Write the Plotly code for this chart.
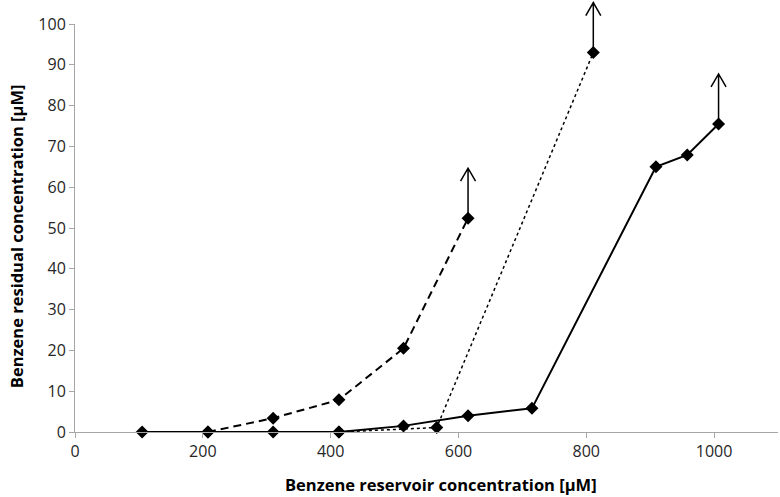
import plotly.graph_objects as go

# Data
solid_x = [105, 208, 310, 413, 514, 615, 715, 909, 958, 1007]
solid_y = [0, 0, 0, 0, 1.5, 4.0, 5.8, 65.0, 67.9, 75.5]

dashed_x = [208, 310, 413, 514, 615]
dashed_y = [0, 3.4, 7.9, 20.5, 52.4]

dotted_x = [413, 566, 811]
dotted_y = [0, 1.1, 93.0]

x_ticks = [0, 200, 400, 600, 800, 1000]
y_ticks = [0, 10, 20, 30, 40, 50, 60, 70, 80, 90, 100]

x_title = "Benzene reservoir concentration [µM]"
y_title = "Benzene residual concentration [µM]"

X_RANGE = [0, 1100]
Y_RANGE = [0, 100]

FONT = "'Open Sans', Lato, sans-serif"
AXIS_GREY = "#a6a6a6"

fig = go.Figure()

series = [
    (dotted_x, dotted_y, "dot", 1.5),
    (dashed_x, dashed_y, "8px,5px", 2),
    (solid_x, solid_y, "solid", 2),
]
for xs, ys, dash, w in series:
    fig.add_trace(go.Scatter(
        x=xs, y=ys, mode="lines+markers",
        line=dict(color="black", width=w, dash=dash),
        marker=dict(symbol="diamond", size=10, color="black"),
        showlegend=False, cliponaxis=False, hoverinfo="skip",
    ))

# Upward open arrows at the last point of each series ("greater than" values).
# Anchored (in paper fractions of the axis ranges) at the data point, drawn in
# pixel units so they may extend above the plot area as in the reference.
ARROW_PATH = "M0,0 L0,50 M-7.5,37 L0,50 L7.5,37"
for xs, ys, _, _ in series:
    fx = (xs[-1] - X_RANGE[0]) / (X_RANGE[1] - X_RANGE[0])
    fy = (ys[-1] - Y_RANGE[0]) / (Y_RANGE[1] - Y_RANGE[0])
    fig.add_shape(
        type="path", xref="paper", yref="paper",
        xsizemode="pixel", ysizemode="pixel",
        xanchor=fx, yanchor=fy,
        path=ARROW_PATH, line=dict(color="black", width=1.5),
        layer="above",
    )

# Axis titles
fig.add_annotation(
    text="<b>" + x_title + "</b>", xref="paper", yref="paper",
    x=0.521, y=-0.128, xanchor="center", yanchor="middle", showarrow=False,
    font=dict(family=FONT, size=16.5, color="black"),
)
fig.add_annotation(
    text="<b>" + y_title + "</b>", xref="paper", yref="paper",
    x=0, xshift=-59, y=0.48, xanchor="center", yanchor="middle", showarrow=False,
    textangle=-90, font=dict(family=FONT, size=16.5, color="black"),
)

fig.update_layout(
    width=780, height=497,
    margin=dict(l=75, r=2, t=24, b=65, autoexpand=False),
    paper_bgcolor="white", plot_bgcolor="white",
    font=dict(family=FONT, size=16, color="#262626"),
)
fig.update_xaxes(
    range=X_RANGE, tickvals=x_ticks, ticktext=[str(v) for v in x_ticks],
    showgrid=False, zeroline=False, showline=True, linecolor=AXIS_GREY, linewidth=1,
    ticks="outside", ticklen=5, tickcolor=AXIS_GREY, automargin=False,
    tickfont=dict(size=16),
)
fig.update_yaxes(
    range=Y_RANGE, tickvals=y_ticks, ticktext=[str(v) for v in y_ticks],
    showgrid=False, zeroline=False, showline=True, linecolor=AXIS_GREY, linewidth=1,
    ticks="outside", ticklen=5, tickcolor=AXIS_GREY, automargin=False,
    tickfont=dict(size=16),
)

# Remove the default 8px page margin so the figure fills the 780x497 window exactly
fig.write_html(
    "out.html",
    config={"displayModeBar": False, "staticPlot": True},
    post_script="document.body.style.margin='0';document.body.style.overflow='hidden';",
)
